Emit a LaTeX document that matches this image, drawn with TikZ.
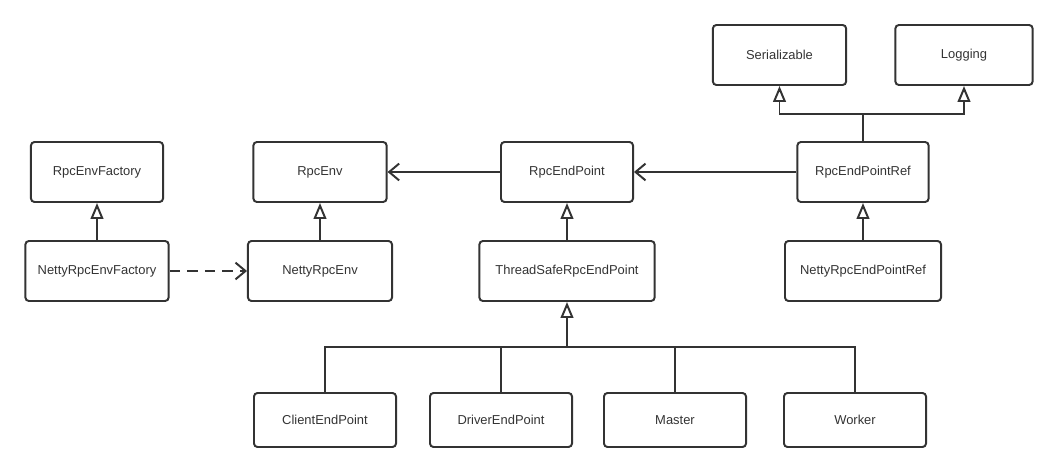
\documentclass[tikz,border=0pt]{standalone}
\usepackage{fontspec}
\setmainfont{Liberation Sans}
\usetikzlibrary{arrows.meta}
\definecolor{umlgray}{HTML}{333333}
\tikzset{
  classbox/.style={draw=umlgray, line width=1.4pt, rounded corners=2.5pt, text=umlgray,
    font=\fontsize{9.2}{11}\selectfont, minimum height=1.5cm, inner sep=0pt},
  inherit/.style={draw=umlgray, line width=1.4pt, -{Triangle[open, length=0.4cm, width=0.32cm]}},
  assoc/.style={draw=umlgray, line width=1.4pt, -{Straight Barb[length=0.25cm, width=0.42cm]}},
  link/.style={draw=umlgray, line width=1.4pt},
}

\begin{document}
\begin{tikzpicture}[x=0.025cm, y=-0.025cm]
			%%%%% START %%%%%
			\useasboundingbox (0, 0) rectangle (1053, 472);
			
			\node[classbox, minimum width=3.33cm] (serial) at (779.5, 55) {Serializable};
			\node[classbox, minimum width=3.43cm] (logging) at (964, 55) {Logging};
			
			\node[classbox, minimum width=3.3cm] (envfac) at (97, 172) {RpcEnvFactory};
			\node[classbox, minimum width=3.58cm] (nettyfac) at (97, 271) {NettyRpcEnvFactory};
			\node[classbox, minimum width=3.33cm] (env) at (320, 172) {RpcEnv};
			\node[classbox, minimum width=3.6cm] (nettyenv) at (320, 271) {NettyRpcEnv};
			\node[classbox, minimum width=3.3cm] (endpoint) at (567, 172) {RpcEndPoint};
			\node[classbox, minimum width=4.38cm] (threadsafe) at (567, 271) {ThreadSafeRpcEndPoint};
			\node[classbox, minimum width=3.28cm] (ref) at (863, 172) {RpcEndPointRef};
			\node[classbox, minimum width=3.9cm] (nettyref) at (863, 271) {NettyRpcEndPointRef};
			
			\node[classbox, minimum width=3.55cm, minimum height=1.35cm] (client) at (325, 420) {ClientEndPoint};
			\node[classbox, minimum width=3.55cm, minimum height=1.35cm] (driver) at (501, 420) {DriverEndPoint};
			\node[classbox, minimum width=3.55cm, minimum height=1.35cm] (master) at (675, 420) {Master};
			\node[classbox, minimum width=3.55cm, minimum height=1.35cm] (worker) at (855, 420) {Worker};
			
			\coordinate (refjoin) at (863, 114);
			\coordinate (bus) at (567, 347);
			
			\draw[inherit] (nettyfac) -- (envfac);
			\draw[inherit] (nettyenv) -- (env);
			\draw[inherit] (threadsafe) -- (endpoint);
			\draw[inherit] (nettyref) -- (ref);
			
			\draw[assoc, dash pattern=on 7.5pt off 5pt] (nettyfac) -- (nettyenv);
			\draw[assoc] (endpoint) -- (env);
			\draw[assoc] (ref) -- (endpoint);
			
			\draw[inherit] (ref.north) -- (refjoin) -| (serial.south);
			\draw[inherit] (refjoin) -| (logging.south);
			
			\draw[inherit] (client.north) |- (bus) -- (threadsafe.south);
			\draw[link] (driver.north) |- (bus);
			\draw[link] (master.north) |- (bus);
			\draw[link] (worker.north) |- (bus);
			
			%%%%% END %%%%%
		\end{tikzpicture}
\end{document}
